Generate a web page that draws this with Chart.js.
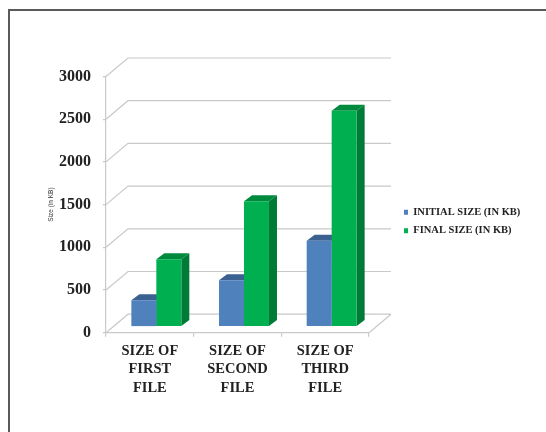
<!DOCTYPE html>
<html>
<head>
<meta charset="utf-8">
<style>
  html, body { margin: 0; padding: 0; background: #fff; }
  #wrap { width: 546px; height: 432px; }
</style>
<script src="https://cdn.jsdelivr.net/npm/chart.js@4"></script>
</head>
<body>
<div id="wrap"><canvas id="chart" width="546" height="432"></canvas></div>
<script>
const categories = [["SIZE OF", "FIRST", "FILE"], ["SIZE OF", "SECOND", "FILE"], ["SIZE OF", "THIRD", "FILE"]];
const initialSize = [310, 545, 1005];
const finalSize = [790, 1470, 2530];
const tickValues = [0, 500, 1000, 1500, 2000, 2500, 3000];

const SERIF = "'Liberation Serif', 'Times New Roman', serif";
const GRID = "#c9c9c9";
const WALL_DX = 22, WALL_DY = 18.5;   // depth of the box behind the front plane
const BAR_DX = 6.5, BAR_DY = 6;       // how far the bars sit behind the front plane
const SIDE_DX = 8, SIDE_DY = 6;       // depth of each bar

function poly(ctx, pts, fill) {
  ctx.beginPath();
  pts.forEach((p, i) => i ? ctx.lineTo(p[0], p[1]) : ctx.moveTo(p[0], p[1]));
  ctx.closePath();
  ctx.fillStyle = fill;
  ctx.fill();
}

// Outer frame, back wall gridlines, floor and the extruded bar faces.
const pseudo3d = {
  id: "pseudo3d",
  beforeDraw(chart) {
    const ctx = chart.ctx;
    ctx.save();
    ctx.strokeStyle = "#5a5a5a";
    ctx.lineWidth = 2;
    ctx.beginPath();
    ctx.moveTo(9, chart.height);
    ctx.lineTo(9, 10);
    ctx.lineTo(chart.width, 10);
    ctx.stroke();
    ctx.restore();
  },
  afterLayout(chart) {
    const lg = chart.legend;
    const w = lg.width, h = lg.height;
    lg.left = 396; lg.right = lg.left + w;
    lg.top = 199; lg.bottom = lg.top + h;
  },
  beforeDatasetsDraw(chart) {
    const ctx = chart.ctx, { x, y } = chart.scales;
    const l = x.left, r = x.right;
    ctx.save();
    ctx.strokeStyle = GRID;
    ctx.lineWidth = 1.2;
    ctx.beginPath();
    tickValues.forEach(v => {
      const py = y.getPixelForValue(v);
      ctx.moveTo(l, py);
      ctx.lineTo(l + WALL_DX, py - WALL_DY);
      ctx.lineTo(r + WALL_DX, py - WALL_DY);
    });
    const by = y.getPixelForValue(0);
    ctx.moveTo(r, by);
    ctx.lineTo(r + WALL_DX, by - WALL_DY);
    ctx.stroke();

    ctx.translate(BAR_DX, -BAR_DY);
    const faces = [["#3a6190", "#385d8a"], ["#008a3e", "#007a37"]];
    chart.data.datasets.forEach((ds, di) => {
      chart.getDatasetMeta(di).data.forEach(bar => {
        const p = bar.getProps(["x", "y", "base", "width"], true);
        const a = p.x - p.width / 2, b = p.x + p.width / 2;
        poly(ctx, [[a, p.y], [b, p.y], [b + SIDE_DX, p.y - SIDE_DY], [a + SIDE_DX, p.y - SIDE_DY]], faces[di][0]);
        poly(ctx, [[b, p.y], [b + SIDE_DX, p.y - SIDE_DY], [b + SIDE_DX, p.base - SIDE_DY], [b, p.base]], faces[di][1]);
      });
    });
    ctx.restore();
    ctx.save();
    ctx.translate(BAR_DX, -BAR_DY);
  },
  afterDatasetsDraw(chart) {
    chart.ctx.restore();
  }
};

new Chart(document.getElementById("chart"), {
  type: "bar",
  data: {
    labels: categories,
    datasets: [
      { label: "INITIAL SIZE (IN KB)", data: initialSize, backgroundColor: "#4f81bd", clip: false },
      { label: "FINAL SIZE (IN KB)", data: finalSize, backgroundColor: "#00b050", clip: false }
    ]
  },
  plugins: [pseudo3d],
  options: {
    responsive: false,
    animation: false,
    layout: { padding: { left: 47, top: 76.5, right: 177, bottom: 0 } },
    datasets: { bar: { barPercentage: 1, categoryPercentage: 0.57 } },
    plugins: {
      tooltip: { enabled: false },
      legend: {
        position: "chartArea",
        align: "start",
        labels: {
          boxWidth: 4,
          boxHeight: 5,
          padding: 8,
          color: "#222",
          font: { family: SERIF, size: 10.5, weight: "bold" }
        }
      }
    },
    scales: {
      x: {
        afterFit(s) { s.height = 99.3; },
        grid: { drawOnChartArea: false, tickLength: 4, color: GRID, lineWidth: 1.2 },
        border: { color: GRID, width: 1.2 },
        ticks: {
          color: "#222",
          padding: 5,
          maxRotation: 0,
          font: { family: SERIF, size: 14.5, weight: "bold", lineHeight: 1.28 }
        }
      },
      y: {
        min: 0,
        max: 3000,
        afterFit(s) { s.width = 59; },
        afterBuildTicks(s) { s.ticks = tickValues.map(value => ({ value })); },
        grid: { drawOnChartArea: false, tickLength: 3, color: GRID, lineWidth: 1.2 },
        border: { color: GRID, width: 1.2 },
        title: {
          display: true,
          text: "Size (in KB)",
          color: "#333",
          padding: 0,
          font: { family: "'Liberation Sans', sans-serif", size: 6.5 }
        },
        ticks: {
          color: "#222",
          padding: 12,
          callback: v => String(v),
          font: { family: SERIF, size: 16, weight: "bold" }
        }
      }
    }
  }
});
</script>
</body>
</html>
